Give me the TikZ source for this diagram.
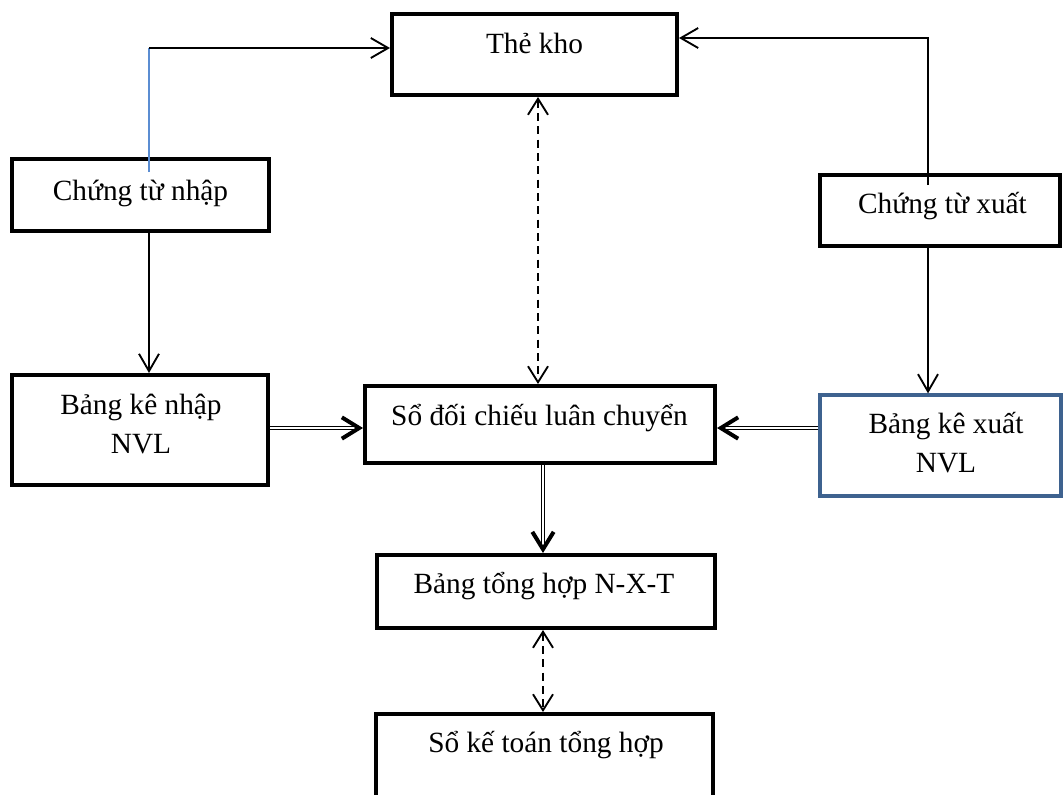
\documentclass[tikz,border=0pt]{standalone}
\usepackage{fontspec}
\setmainfont{Liberation Serif}
\usetikzlibrary{arrows.meta,calc}
\definecolor{boxblue}{RGB}{62,98,143}
\definecolor{linkblue}{RGB}{91,141,210}

\begin{document}
\begin{tikzpicture}[x=0.75pt,y=-0.75pt,
  box/.style 2 args={draw=black, line width=3pt, rectangle, inner sep=0pt,
    minimum width=#1*0.75pt, minimum height=#2*0.75pt},
  bluebox/.style 2 args={draw=boxblue, line width=2.5pt, rectangle, inner sep=0pt,
    minimum width=#1*0.75pt, minimum height=#2*0.75pt},
  txt/.style={anchor=base, inner sep=0pt, align=center,
    font=\fontsize{22}{29}\selectfont},
  flow/.style={draw=black, line width=1.4pt, -{Straight Barb[length=13pt, width=15pt]}},
  link/.style={draw=linkblue, line width=1.4pt},
  check/.style={draw=black, line width=1.4pt, dash pattern=on 6pt off 4pt,
    {Straight Barb[length=12pt, width=15pt]}-{Straight Barb[length=12pt, width=15pt]}},
  post/.style={draw=black, double, double distance=1.3pt, line width=0.75pt,
    -{Straight Barb[length=13pt, width=16pt, line width=3pt]}}
]
\useasboundingbox (0,0) rectangle (1063,794);
\fill[white] (0,0) rectangle (1063,794);
\clip (0,0) rectangle (1063,794);

% boxes
\node[box={285}{81}]  (the) at (534.5,54.5) {};
\node[box={257}{72}]  (ctn) at (140.5,195) {};
\node[box={240}{71}]  (ctx) at (940,210.5) {};
\node[box={256}{110}] (bkn) at (140,430) {};
\node[box={350}{77}]  (sdc) at (540,424.5) {};
\node[bluebox={241}{101}] (bkx) at (940.5,445.5) {};
\node[box={338}{73}]  (bth) at (546,591.5) {};
\node[box={337}{84}]  (skt) at (544.5,756) {};

% labels (two-line labels are placed by the baseline of their last line)
\node[txt] (the-t) at (534.5,53)  {Thẻ kho};
\node[txt] (ctn-t) at (140.5,200) {Chứng từ nhập};
\node[txt] (ctx-t) at (942.5,213) {Chứng từ xuất};
\node[txt] (bkn-t) at (141,453)   {Bảng kê nhập\\NVL};
\node[txt] (sdc-t) at (539.5,425) {Sổ đối chiếu luân chuyển};
\node[txt] (bkx-t) at (946,472)   {Bảng kê xuất\\NVL};
\node[txt] (bth-t) at (544,593)   {Bảng tổng hợp N-X-T};
\node[txt] (skt-t) at (546,752)   {Sổ kế toán tổng hợp};

% receipts and issues to the stock card
\coordinate (ctn-s) at ($(ctn.north)+(8.5,15)$);
\coordinate (jn) at (ctn-s |- 0,48);
\draw[link] (ctn-s) -- (jn);
\draw[flow] (jn) -- (jn -| the.west);

\coordinate (ctx-s) at ($(ctx.north)+(-12,12)$);
\coordinate (jx) at (ctx-s |- 0,38);
\draw[flow] (ctx-s) -- (jx) -- (jx -| the.east);

% documents to their listings
\coordinate (ctn-b) at ($(ctn.south)+(8.5,0)$);
\draw[flow] (ctn-b) -- (ctn-b |- bkn.north);
\coordinate (ctx-b) at ($(ctx.south)+(-12,0)$);
\draw[flow] (ctx-b) -- (ctx-b |- bkx.north);

% listings posted to the rotation ledger
\coordinate (bkn-e) at ($(bkn.east)+(0,-2)$);
\draw[post] (bkn-e) -- (bkn-e -| sdc.west);
\coordinate (bkx-w) at ($(bkx.west)+(0,-17.5)$);
\draw[post] (bkx-w) -- (bkx-w -| sdc.east);
\coordinate (sdc-b) at ($(sdc.south)+(3,0)$);
\draw[post] (sdc-b) -- (sdc-b |- bth.north);

% cross-checks
\coordinate (the-b) at ($(the.south)+(3.5,0)$);
\draw[check] (the-b) -- (the-b |- sdc.north);
\coordinate (bth-b) at ($(bth.south)+(-3,0)$);
\draw[check] (bth-b) -- (bth-b |- skt.north);
\end{tikzpicture}
\end{document}
